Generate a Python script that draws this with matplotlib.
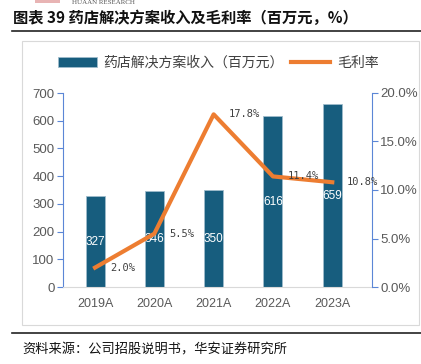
import matplotlib
matplotlib.use("Agg")
import matplotlib.pyplot as plt
from matplotlib.patches import Rectangle
from matplotlib.lines import Line2D

plt.rcParams['font.family'] = ['Liberation Sans', 'Noto Sans CJK SC', 'DejaVu Sans']

years = ["2019A", "2020A", "2021A", "2022A", "2023A"]
revenue = [327, 346, 350, 616, 659]
margin = [2.0, 5.5, 17.8, 11.4, 10.8]

BAR = "#175d7e"
ORANGE = "#ed7d31"
AXBLUE = "#5b86d6"
GRAY = "#595959"

W, H = 421, 364
fig = plt.figure(figsize=(W / 100, H / 100), dpi=100)

def fx(px):
    return px / W

def fy(py):
    return 1 - py / H

# header bits
fig.patches.append(Rectangle((fx(35), fy(3)), fx(25), 3 / H, transform=fig.transFigure,
                             color="#e8b4b4", lw=0))
fig.text(fx(72), fy(0), "HUAAN RESEARCH", fontsize=5, color="#555555",
         family="Liberation Serif", va="top")
fig.text(fx(13), fy(18), "图表 39 药店解决方案收入及毛利率（百万元，%）", fontsize=11,
         fontweight="bold", family=["Noto Sans CJK SC"], va="center", color="#111111")
fig.add_artist(Line2D([fx(12), 1], [fy(31), fy(31)], color="#222222", lw=1.2,
                      transform=fig.transFigure))
fig.add_artist(Line2D([fx(12), 1], [fy(333), fy(333)], color="#222222", lw=1.2,
                      transform=fig.transFigure))
fig.text(fx(22), fy(350), "资料来源：公司招股说明书，华安证券研究所", fontsize=9.5,
         family=["Noto Sans CJK SC"], va="center", color="#111111")

# chart frame
fig.patches.append(Rectangle((fx(22), fy(325)), fx(397), (325 - 41) / H,
                             transform=fig.transFigure, fill=False,
                             edgecolor="#d9d9d9", lw=0.8))

ax = fig.add_axes([fx(63), fy(287), fx(372 - 63), (287 - 93) / H])
x = list(range(len(years)))
bars = ax.bar(x, revenue, width=0.32, color=BAR, edgecolor="#9fbccc", lw=0.6,
              label="药店解决方案收入（百万元）", zorder=2)
for xi, v in zip(x, revenue):
    ax.text(xi, v / 2, str(v), color="white", ha="center", va="center", fontsize=8.5,
            zorder=3)

ax.set_xlim(-0.54, 4.67)
ax.set_ylim(0, 700)
ax.set_yticks(range(0, 701, 100))
ax.set_xticks(x)
ax.set_xticklabels(years)
ax.tick_params(axis="x", length=0, pad=8, labelsize=9, labelcolor=GRAY)
ax.tick_params(axis="y", length=4, color=AXBLUE, labelsize=9.5, labelcolor=GRAY, pad=2)
for s in ["top", "right"]:
    ax.spines[s].set_visible(False)
ax.spines["left"].set_color(AXBLUE)
ax.spines["bottom"].set_color("#d9d9d9")

ax2 = ax.twinx()
ax2.plot(x, margin, color=ORANGE, lw=3, label="毛利率", zorder=4)
for xi, m in zip(x, margin):
    ax2.text(xi + 0.25, m, f"{m:.1f}%", ha="left", va="center", fontsize=7.5,
             color="#404040", family="DejaVu Sans Mono", zorder=5)
ax2.set_ylim(0, 20)
ax2.set_yticks(range(0, 21, 5))
ax2.set_yticklabels([f"{v:.1f}%" for v in range(0, 21, 5)])
ax2.tick_params(axis="y", length=4, color=AXBLUE, labelsize=9.5, labelcolor=GRAY, pad=2)
for s in ["top", "left", "bottom"]:
    ax2.spines[s].set_visible(False)
ax2.spines["right"].set_color(AXBLUE)

h1, l1 = ax.get_legend_handles_labels()
h2, l2 = ax2.get_legend_handles_labels()
fig.legend(h1 + h2, l1 + l2, loc="center", bbox_to_anchor=(fx(218), fy(63)), ncol=2,
           frameon=False, labelcolor="#404040", handlelength=2.8,
           handletextpad=0.5, columnspacing=0.5, prop={"family": ["Noto Sans CJK SC"], "size": 10})

fig.savefig("out.png", dpi=100)
